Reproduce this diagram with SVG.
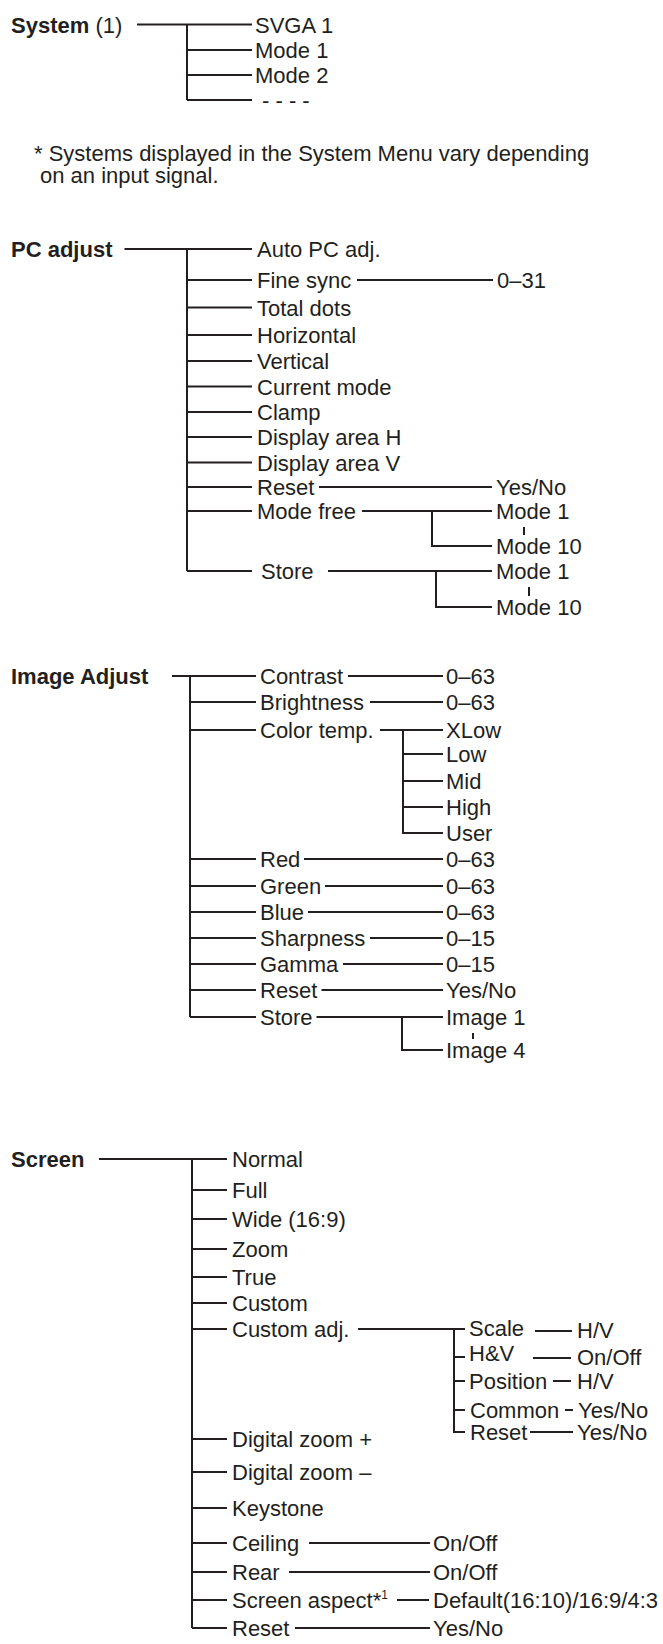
<svg xmlns="http://www.w3.org/2000/svg" width="663" height="1644" viewBox="0 0 663 1644">
<style>
text{font-family:"Liberation Sans",Arial,Helvetica,sans-serif;font-size:22px;fill:#231f20}
.b{font-weight:bold}
.r{font-weight:normal}
.c path{fill:none;stroke:#231f20;stroke-width:2}
</style>
<rect width="663" height="1644" fill="#ffffff"/>
<g class="c" id="connectors">
<path d="M137 24.5H252M187 24.5V100M187 50H252M187 75H252M187 100H252"/>
<path d="M124.5 249H252M187 249V571M187 280H252M187 307.5H252M187 335H252M187 361H252M187 386.5H252M187 412H252M187 437H252M187 462.5H252M187 487H252M187 511H252M187 571H252"/>
<path d="M357 280H493M319 487H492M362 511H492M432 511V546H492M524 527V535M328 571H492M436 571V607H492M529 587V596"/>
<path d="M172 676H256M190 676V1017M190 702H256M190 730H256M190 859H256M190 886H256M190 912H256M190 938H256M190 964H256M190 990H256M190 1017H256"/>
<path d="M348 676H443M370 702H443M380 730H443M403 730V833H443M403 754H443M403 781H443M403 807H443M304 859H443M325 886H443M308 912H443M370 938H443M343 964H443M321.5 990H443M316.5 1017H443M402 1017V1050H443M473 1033V1039"/>
<path d="M99 1159H227M192 1159V1628M192 1190H227M192 1219H227M192 1249H227M192 1277H227M192 1303H227M192 1329H227M192 1439H227M192 1472H227M192 1508H227M192 1543H227M192 1572H227M192 1600H227M192 1628H227"/>
<path d="M358 1329H465M454 1329V1432H465M454 1357H465M454 1381H465M454 1410H465M535 1331H572M533 1358H571M553 1381H571M565 1410H573M530 1432H573"/>
<path d="M309 1543H430M289 1572H430M397 1600H429M295 1628H430"/>
</g>
<g id="system"><text class="b" x="11" y="32.5">System<tspan class="r"> (1)</tspan></text></g>
<g id="sys-svga1"><text x="255" y="32.5">SVGA 1</text></g>
<g id="sys-mode1"><text x="255" y="58">Mode 1</text></g>
<g id="sys-mode2"><text x="255" y="83">Mode 2</text></g>
<g id="sys-more"><text x="262" y="108">- - - -</text></g>
<g id="footnote"><text x="34" y="161">* Systems displayed in the System Menu vary depending</text><text x="40" y="183">on an input signal.</text></g>
<g id="pc-adjust"><text class="b" x="11" y="257">PC adjust</text></g>
<g id="pc-auto"><text x="257" y="257">Auto PC adj.</text></g>
<g id="pc-fine"><text x="257" y="288">Fine sync</text></g>
<g id="pc-fine-val"><text x="497" y="288">0–31</text></g>
<g id="pc-total"><text x="257" y="315.5">Total dots</text></g>
<g id="pc-horiz"><text x="257" y="343">Horizontal</text></g>
<g id="pc-vert"><text x="257" y="369">Vertical</text></g>
<g id="pc-current"><text x="257" y="394.5">Current mode</text></g>
<g id="pc-clamp"><text x="257" y="420">Clamp</text></g>
<g id="pc-dah"><text x="257" y="445">Display area H</text></g>
<g id="pc-dav"><text x="257" y="470.5">Display area V</text></g>
<g id="pc-reset"><text x="257" y="495">Reset</text></g>
<g id="pc-reset-val"><text x="496" y="495">Yes/No</text></g>
<g id="pc-modefree"><text x="257" y="519">Mode free</text></g>
<g id="pc-mf-1"><text x="496" y="519">Mode 1</text></g>
<g id="pc-mf-10"><text x="496" y="554">Mode 10</text></g>
<g id="pc-store"><text x="261" y="579">Store</text></g>
<g id="pc-st-1"><text x="496" y="579">Mode 1</text></g>
<g id="pc-st-10"><text x="496" y="615">Mode 10</text></g>
<g id="image-adjust"><text class="b" x="11" y="684">Image Adjust</text></g>
<g id="ia-contrast"><text x="260" y="684">Contrast</text><text x="446" y="684">0–63</text></g>
<g id="ia-bright"><text x="260" y="710">Brightness</text><text x="446" y="710">0–63</text></g>
<g id="ia-colortemp"><text x="260" y="738">Color temp.</text></g>
<g id="ia-xlow"><text x="446" y="738">XLow</text></g>
<g id="ia-low"><text x="446" y="762">Low</text></g>
<g id="ia-mid"><text x="446" y="789">Mid</text></g>
<g id="ia-high"><text x="446" y="815">High</text></g>
<g id="ia-user"><text x="446" y="841">User</text></g>
<g id="ia-red"><text x="260" y="867">Red</text><text x="446" y="867">0–63</text></g>
<g id="ia-green"><text x="260" y="894">Green</text><text x="446" y="894">0–63</text></g>
<g id="ia-blue"><text x="260" y="920">Blue</text><text x="446" y="920">0–63</text></g>
<g id="ia-sharp"><text x="260" y="946">Sharpness</text><text x="446" y="946">0–15</text></g>
<g id="ia-gamma"><text x="260" y="972">Gamma</text><text x="446" y="972">0–15</text></g>
<g id="ia-reset"><text x="260" y="998">Reset</text><text x="446" y="998">Yes/No</text></g>
<g id="ia-store"><text x="260" y="1025">Store</text></g>
<g id="ia-img1"><text x="446" y="1025">Image 1</text></g>
<g id="ia-img4"><text x="446" y="1058">Image 4</text></g>
<g id="screen"><text class="b" x="11" y="1167">Screen</text></g>
<g id="sc-normal"><text x="232" y="1167">Normal</text></g>
<g id="sc-full"><text x="232" y="1198">Full</text></g>
<g id="sc-wide"><text x="232" y="1227">Wide (16:9)</text></g>
<g id="sc-zoom"><text x="232" y="1257">Zoom</text></g>
<g id="sc-true"><text x="232" y="1285">True</text></g>
<g id="sc-custom"><text x="232" y="1311">Custom</text></g>
<g id="sc-customadj"><text x="232" y="1337">Custom adj.</text></g>
<g id="sc-scale"><text x="469" y="1336">Scale</text><text x="577" y="1338">H/V</text></g>
<g id="sc-hv"><text x="469" y="1361">H&amp;V</text><text x="577" y="1365">On/Off</text></g>
<g id="sc-position"><text x="469" y="1389">Position</text><text x="577" y="1389">H/V</text></g>
<g id="sc-common"><text x="470" y="1418">Common</text><text x="578" y="1418">Yes/No</text></g>
<g id="sc-cadj-reset"><text x="470" y="1440">Reset</text><text x="577" y="1440">Yes/No</text></g>
<g id="sc-dzplus"><text x="232" y="1447">Digital zoom +</text></g>
<g id="sc-dzminus"><text x="232" y="1480">Digital zoom –</text></g>
<g id="sc-keystone"><text x="232" y="1516">Keystone</text></g>
<g id="sc-ceiling"><text x="232" y="1551">Ceiling</text><text x="433" y="1551">On/Off</text></g>
<g id="sc-rear"><text x="232" y="1580">Rear</text><text x="433" y="1580">On/Off</text></g>
<g id="sc-aspect"><text x="232" y="1608">Screen aspect*<tspan font-size="12" dy="-9">1</tspan></text><text x="433" y="1608">Default(16:10)/16:9/4:3</text></g>
<g id="sc-reset"><text x="232" y="1636">Reset</text><text x="433" y="1636">Yes/No</text></g>
</svg>
